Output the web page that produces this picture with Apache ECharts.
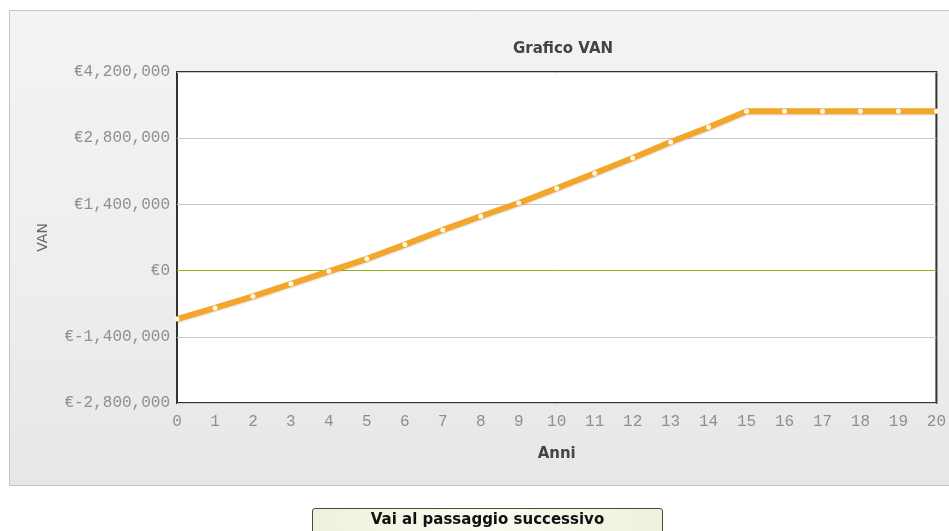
<!DOCTYPE html>
<html>
<head>
<meta charset="utf-8">
<script src="https://cdn.jsdelivr.net/npm/echarts@6/dist/echarts.min.js"></script>
<style>
  html, body { margin: 0; padding: 0; background: #ffffff; }
  #chart { position: absolute; left: 0; top: 0; width: 949px; height: 531px; }
  #btn {
    position: absolute; left: 312px; top: 508px; width: 351px; height: 30px;
    border: 1px solid #4a4a3a; border-radius: 3px;
    background: linear-gradient(to right, #eef1dc, #fafbf0 50%, #eef1dc);
    font-family: "DejaVu Sans", Verdana, sans-serif; font-weight: bold; font-size: 15px;
    color: #111; text-align: center; line-height: 21px; box-sizing: border-box;
  }
</style>
</head>
<body>
<div id="chart"></div>
<div id="btn">Vai al passaggio successivo</div>
<script>
const years = ['0','1','2','3','4','5','6','7','8','9','10','11','12','13','14','15','16','17','18','19','20'];
const vanValues = [-1025000, -790000, -545000, -280000, -15000, 250000, 550000, 860000, 1150000, 1430000,
                   1740000, 2060000, 2380000, 2720000, 3030000, 3370000, 3370000, 3370000, 3370000, 3370000, 3370000];
const yTicks = { min: -2800000, max: 4200000, interval: 1400000 };
const chartTitle = 'Grafico VAN';
const yName = 'VAN';
const xName = 'Anni';

const chart = echarts.init(document.getElementById('chart'), null, { renderer: 'canvas' });
const tickFont = '"Liberation Mono", "Courier New", monospace';
const sansFont = '"DejaVu Sans", Verdana, sans-serif';
chart.setOption({
  animation: false,
  backgroundColor: 'transparent',
  graphic: [{
    type: 'rect', z: -10, silent: true,
    shape: { x: 9.5, y: 10.5, width: 945, height: 475 },
    style: {
      fill: new echarts.graphic.LinearGradient(0, 0, 0, 1, [
        { offset: 0, color: '#f3f3f3' }, { offset: 0.5, color: '#efefef' }, { offset: 1, color: '#e7e7e7' }
      ]),
      stroke: '#c4c4c4', lineWidth: 1
    }
  }],
  title: {
    text: chartTitle, left: 558, top: 37, textAlign: 'center',
    textStyle: { fontFamily: sansFont, fontWeight: 'bold', fontSize: 15, color: '#444' }
  },
  grid: {
    left: 177, right: 9, top: 72, bottom: 128, show: true,
    backgroundColor: '#ffffff', borderColor: '#333333', borderWidth: 2
  },
  xAxis: {
    type: 'category', data: years, boundaryGap: false,
    name: xName, nameLocation: 'middle', nameGap: 44,
    nameTextStyle: { fontFamily: sansFont, fontWeight: 'bold', fontSize: 15, color: '#444' },
    axisLine: { show: false }, axisTick: { show: false },
    axisLabel: { margin: 11, fontFamily: tickFont, fontSize: 16, color: '#8f8f8f' },
    splitLine: { show: false }
  },
  yAxis: {
    type: 'value', min: yTicks.min, max: yTicks.max, interval: yTicks.interval,
    name: yName, nameLocation: 'middle', nameGap: 127,
    nameTextStyle: { fontFamily: sansFont, fontSize: 14, color: '#666' },
    axisLine: { show: false }, axisTick: { show: false },
    axisLabel: {
      margin: 7, fontFamily: tickFont, fontSize: 16, color: '#8f8f8f',
      formatter: v => '€' + v.toLocaleString('en-US')
    },
    splitLine: { show: true, lineStyle: { color: ['#c8c8c8', '#c8c8c8', '#8dbb10', '#c8c8c8', '#c8c8c8', '#c8c8c8'], width: 1 } }
  },
  series: [{
    type: 'line', data: vanValues, showAllSymbol: true,
    symbol: 'circle', symbolSize: 5,
    lineStyle: { color: '#f4a62a', width: 6, shadowColor: 'rgba(0,0,0,0.15)', shadowBlur: 2, shadowOffsetY: 1 },
    itemStyle: { color: '#fff8e4', borderWidth: 0 },
    clip: false
  }]
});
</script>
</body>
</html>
